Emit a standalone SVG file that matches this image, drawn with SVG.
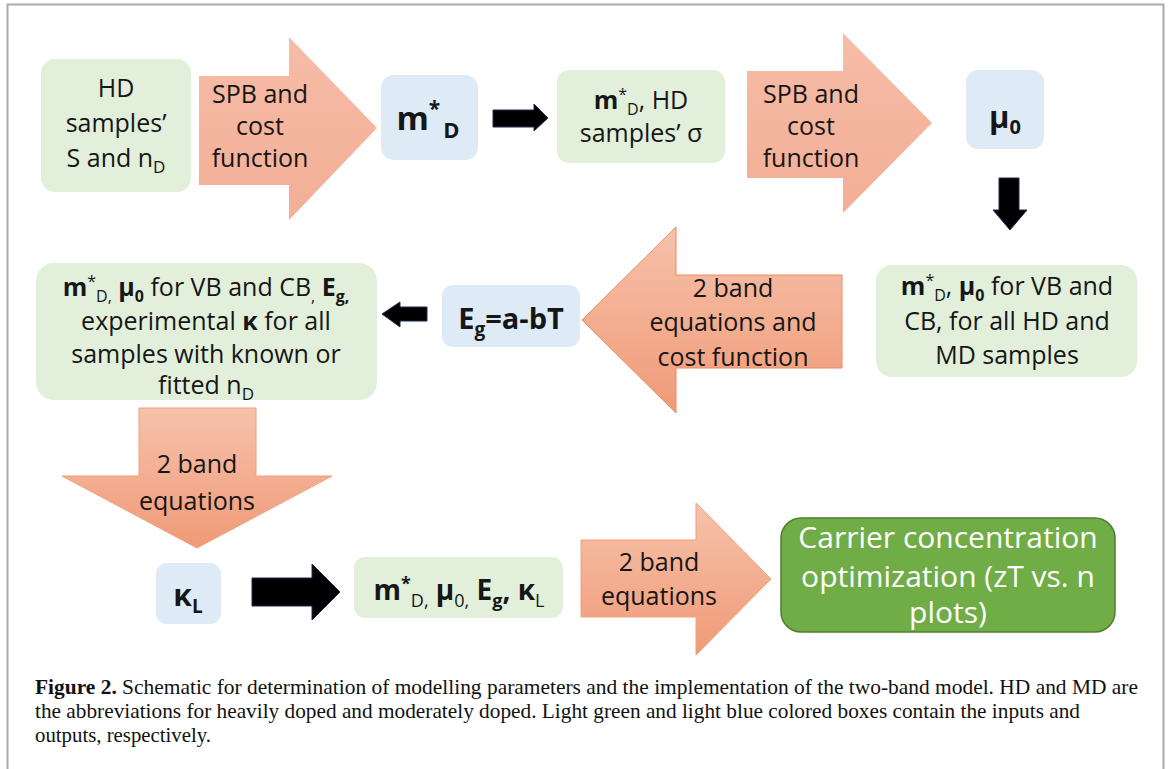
<svg xmlns="http://www.w3.org/2000/svg" width="1170" height="769" viewBox="0 0 1170 769">
<defs>
<linearGradient id="gTop" x1="0" y1="0" x2="0" y2="1">
<stop offset="0" stop-color="#F6BCA7"/><stop offset="1" stop-color="#F3AE96"/>
</linearGradient>
<linearGradient id="gOr" x1="0" y1="0" x2="0" y2="1">
<stop offset="0" stop-color="#F6C2AB"/><stop offset="1" stop-color="#F09A77"/>
</linearGradient>
<style>
.t{font-family:"Open Sans","Liberation Sans",sans-serif;font-size:25px;fill:#161616;text-anchor:middle}
.b{font-weight:bold}
.green{fill:#E2EFDA}
.blue{fill:#DEEBF7}
.blk{fill:#000;stroke:#1F2D4F;stroke-width:1}
.cap{font-family:"Liberation Serif","Times New Roman",serif;font-size:21px;fill:#111}
</style>
</defs>
<rect width="1170" height="769" fill="#fff"/>
<path d="M7.5,769 V4.5 H1163.5 V769" fill="none" stroke="#AAAAAA" stroke-width="2"/>

<g id="connectors">
<polygon id="arrow-spb1" points="199,76 289,76 289,37 377,128 289,220 289,185 199,185" fill="url(#gTop)"/>
<polygon id="arrow-md-right" class="blk" points="493,110 534,110 534,104 548,118 534,131 534,127 493,127"/>
<polygon id="arrow-spb2" points="747,71 843,71 843,33 932,123 843,213 843,178 747,178" fill="url(#gTop)"/>
<polygon id="arrow-mu-down" class="blk" points="999,178 1019,178 1019,210 1027,210 1010,230 993,210 999,210"/>
<polygon id="arrow-2band-left" points="842,275 676,275 676,227 582,320 676,413 676,368 842,368" fill="url(#gOr)" stroke="#EE8A5F" stroke-width="1"/>
<polygon id="arrow-eg-left" class="blk" points="427,307 400,307 400,302 382,314 400,327 400,321 427,321"/>
<polygon id="arrow-2band-down" points="139,408 256,408 256,476 332,476 197,548 62,476 139,476" fill="url(#gOr)" stroke="#F0A07F" stroke-width="1"/>
<polygon id="arrow-kl-right" class="blk" points="252,578 312,578 312,564 340,592 312,620 312,606 252,606"/>
<polygon id="arrow-2band-right" points="581,540 696,540 696,503 771,579 696,655 696,617 581,617" fill="url(#gOr)" stroke="#F0A07F" stroke-width="1"/>
<text class="t" x="260"><tspan x="260" y="103">SPB and</tspan><tspan x="260" y="135">cost</tspan><tspan x="260" y="167">function</tspan></text>
<text class="t" x="811"><tspan x="811" y="103">SPB and</tspan><tspan x="811" y="135">cost</tspan><tspan x="811" y="167">function</tspan></text>
<text class="t" x="733"><tspan x="733" y="297">2 band</tspan><tspan x="733" y="331">equations and</tspan><tspan x="733" y="366">cost function</tspan></text>
<text class="t" x="197"><tspan x="197" y="473">2 band</tspan><tspan x="197" y="510">equations</tspan></text>
<text class="t" x="659"><tspan x="659" y="571">2 band</tspan><tspan x="659" y="605">equations</tspan></text>
</g>

<g id="node-hd-samples">
<rect class="green" x="41" y="59" width="150" height="133" rx="14"/>
<text class="t"><tspan x="116" y="97">HD</tspan><tspan x="116" y="132">samples’</tspan><tspan x="116" y="167">S and n<tspan dy="6" font-size="17">D</tspan></tspan></text>
</g>

<g id="node-mD">
<rect class="blue" x="381" y="75" width="97" height="85" rx="13"/>
<text class="t b" x="428" y="130" style="font-size:33px">m<tspan dy="-14" font-size="21">*</tspan><tspan dx="3" dy="22" font-size="22">D</tspan></text>
</g>

<g id="node-mD-sigma">
<rect class="green" x="557" y="70" width="168" height="93" rx="12"/>
<text class="t" x="641" y="109"><tspan class="b">m</tspan><tspan dy="-9" font-size="16">*</tspan><tspan dy="15" font-size="16">D</tspan><tspan dy="-6">, HD</tspan></text>
<text class="t" x="641" y="142">samples’ σ</text>
</g>

<g id="node-mu0">
<rect class="blue" x="966" y="70" width="78" height="79" rx="12"/>
<text class="t b" x="1005" y="128" style="font-size:31px">μ<tspan dy="6" font-size="20">0</tspan></text>
</g>

<g id="node-all-samples">
<rect class="green" x="876" y="265" width="261" height="112" rx="16"/>
<text class="t" x="1007" y="295"><tspan class="b">m</tspan><tspan dy="-9" font-size="16">*</tspan><tspan dy="15" font-size="16">D</tspan><tspan dy="-6">, </tspan><tspan class="b">μ</tspan><tspan dy="6" font-size="16" class="b">0</tspan><tspan dy="-6"> for VB and</tspan></text>
<text class="t" x="1007" y="330">CB, for all HD and</text>
<text class="t" x="1007" y="364">MD samples</text>
</g>

<g id="node-eg">
<rect class="blue" x="442" y="285" width="138" height="62" rx="11"/>
<text class="t b" x="511" y="329" style="font-size:29px">E<tspan dy="7" font-size="19">g</tspan><tspan dy="-7">=a-bT</tspan></text>
</g>

<g id="node-inputs">
<rect class="green" x="36" y="263" width="341" height="137" rx="18"/>
<text class="t" x="206" y="296"><tspan class="b">m</tspan><tspan dy="-9" font-size="16">*</tspan><tspan dy="15" font-size="16">D,</tspan><tspan dy="-6" class="b"> μ</tspan><tspan dy="6" font-size="16" class="b">0</tspan><tspan dy="-6"> for VB and CB</tspan><tspan dy="6" font-size="16">,</tspan><tspan dy="-6" class="b"> E</tspan><tspan dy="6" font-size="16" class="b">g,</tspan></text>
<text class="t" x="206" y="330">experimental <tspan class="b">κ</tspan> for all</text>
<text class="t" x="206" y="363">samples with known or</text>
<text class="t" x="206" y="394">fitted n<tspan dy="6" font-size="17">D</tspan></text>
</g>

<g id="node-kl">
<rect class="blue" x="156" y="563" width="65" height="61" rx="11"/>
<text class="t b" x="188" y="606" style="font-size:30px">κ<tspan dy="7" font-size="19">L</tspan></text>
</g>

<g id="node-params">
<rect class="green" x="354" y="557" width="209" height="61" rx="11"/>
<text class="t b" x="459" y="600" style="font-size:28px">m<tspan dy="-10" font-size="18">*</tspan><tspan dy="17" font-size="18" font-weight="normal">D,</tspan><tspan dy="-7"> μ</tspan><tspan dy="7" font-size="18" font-weight="normal">0,</tspan><tspan dy="-7"> E</tspan><tspan dy="7" font-size="18">g</tspan><tspan dy="-7">, κ</tspan><tspan dy="7" font-size="18" font-weight="normal">L</tspan></text>
</g>

<g id="node-optimization">
<rect x="781" y="518" width="334" height="114" rx="20" fill="#70AD47" stroke="#507E32" stroke-width="1.5"/>
<text class="t" style="fill:#fff;font-size:30px"><tspan x="948" y="548">Carrier concentration</tspan><tspan x="948" y="587">optimization (zT vs. n</tspan><tspan x="948" y="623">plots)</tspan></text>
</g>

<g id="caption">
<text class="cap" x="35" y="694" textLength="1103" lengthAdjust="spacingAndGlyphs"><tspan font-weight="bold">Figure 2.</tspan> Schematic for determination of modelling parameters and the implementation of the two-band model. HD and MD are</text>
<text class="cap" x="35" y="718" textLength="1045" lengthAdjust="spacingAndGlyphs">the abbreviations for heavily doped and moderately doped. Light green and light blue colored boxes contain the inputs and</text>
<text class="cap" x="35" y="742" textLength="176" lengthAdjust="spacingAndGlyphs">outputs, respectively.</text>
</g>
</svg>
